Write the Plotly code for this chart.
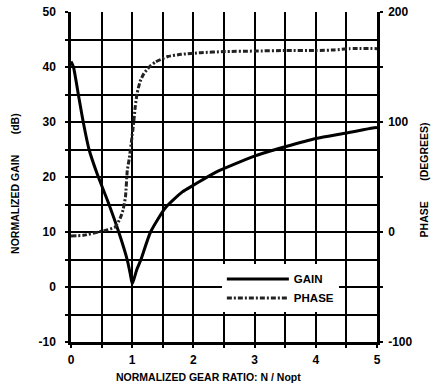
import plotly.graph_objects as go

# ---- data ----
gain_x = [0, 0.04, 0.12, 0.2, 0.295, 0.43, 0.615, 0.78, 0.92, 0.97, 1.0, 1.03, 1.08, 1.14,
          1.3, 1.55, 1.82, 2.0, 2.37, 3.02, 3.5, 4.0, 4.5, 4.93, 5.0]
gain_db = [41, 40, 35, 30, 25, 20.5, 15.2, 10, 4.9, 2.3, 0.6, 1.5, 3.3, 4.9,
           10, 14.5, 17.3, 18.5, 20.9, 23.9, 25.5, 27.0, 28.0, 28.9, 29.0]

phase_x = [0, 0.2, 0.45, 0.6, 0.72, 0.8, 0.85, 0.89, 0.92, 0.95, 0.97, 1.0, 1.025, 1.05,
           1.08, 1.13, 1.19, 1.28, 1.38, 1.58, 1.8, 2.12, 2.5, 3.0, 3.5, 4.0, 4.3, 4.55, 5.0]
phase_deg = [-3.6, -3, 0, 2, 4.5, 12, 20, 32, 56, 66, 74.5, 88, 100, 114,
             126, 137, 144, 150, 154.5, 159.5, 161.5, 163, 164, 164.5, 165, 165, 165.5,
             166.7, 166.7]

x_ticks = [0, 0.5, 1, 1.5, 2, 2.5, 3, 3.5, 4, 4.5, 5]
x_labels = ["0", "", "1", "", "2", "", "3", "", "4", "", "5"]
gain_ticks = [-10, -5, 0, 5, 10, 15, 20, 25, 30, 35, 40, 45, 50]
gain_labels = ["-10", "", "0", "", "10", "", "20", "", "30", "", "40", "", "50"]
phase_ticks = [-100, -50, 0, 50, 100, 150, 200]
phase_labels = ["-100", "", "0", "", "100", "", "200"]

x_title = "NORMALIZED GEAR RATIO: N / Nopt"
gain_title = "NORMALIZED GAIN" + "\u00a0" * 7 + "(dB)"
phase_title = "PHASE" + "\u00a0" * 7 + "(DEGREES)"

FONT = "Liberation Sans, Arial, sans-serif"
TICKFONT = dict(family=FONT, size=12, color="black", weight="bold")
TITLEFONT = dict(family=FONT, size=10.5, color="black", weight="bold")

fig = go.Figure()
fig.add_trace(go.Scatter(x=gain_x, y=gain_db, mode="lines", name="GAIN",
                         line=dict(color="black", width=3, shape="spline", smoothing=0.6)))
fig.add_trace(go.Scatter(x=phase_x, y=phase_deg, mode="lines", name="PHASE", yaxis="y2",
                         line=dict(color="#222", width=3, dash="5px,2px,2px,2px",
                                   shape="spline", smoothing=0.5)))

axis_common = dict(showline=True, linecolor="black", linewidth=2.5,
                   showgrid=True, gridcolor="black", gridwidth=1.6, zeroline=False,
                   ticks="outside", ticklen=3, tickwidth=2, tickcolor="black",
                   tickfont=TICKFONT, automargin=False)

fig.update_layout(
    width=432, height=392,
    margin=dict(l=71, r=54.5, t=12, b=50),
    paper_bgcolor="white", plot_bgcolor="white",
    showlegend=True,
    legend=dict(x=0.493, y=0.235, xanchor="left", yanchor="top",
                bgcolor="white", borderwidth=0,
                font=dict(family=FONT, size=11.5, color="black", weight="bold"),
                tracegroupgap=0, itemwidth=62),
    xaxis=dict(range=[0, 5], tickmode="array", tickvals=x_ticks, ticktext=x_labels,
               ticklabelstandoff=2, **axis_common),
    yaxis=dict(range=[-10, 50], tickmode="array", tickvals=gain_ticks, ticktext=gain_labels,
               ticklabelstandoff=7, **axis_common),
    yaxis2=dict(range=[-100, 200], overlaying="y", side="right", tickmode="array",
                tickvals=phase_ticks, ticktext=phase_labels, automargin=False,
                showline=True, linecolor="black", linewidth=2.5, showgrid=False,
                zeroline=False, ticks="outside", ticklen=3, tickwidth=2, tickcolor="black",
                ticklabelstandoff=3, tickfont=TICKFONT),
    annotations=[
        dict(text=x_title, xref="paper", yref="paper", x=0.45, y=-0.106,
             xanchor="center", yanchor="middle", showarrow=False, font=TITLEFONT),
        dict(text=gain_title, xref="paper", yref="paper", x=-0.183, y=0.479,
             xanchor="center", yanchor="middle", textangle=-90, showarrow=False,
             font=TITLEFONT),
        dict(text=phase_title, xref="paper", yref="paper", x=1.155, y=0.491,
             xanchor="center", yanchor="middle", textangle=-90, showarrow=False,
             font=TITLEFONT),
    ],
)

# remove the browser's default 8px body margin so the figure sits at the page origin
fig.write_html("out.html",
               config={"displayModeBar": False},
               post_script="document.body.style.margin='0';document.body.style.overflow='hidden';")
